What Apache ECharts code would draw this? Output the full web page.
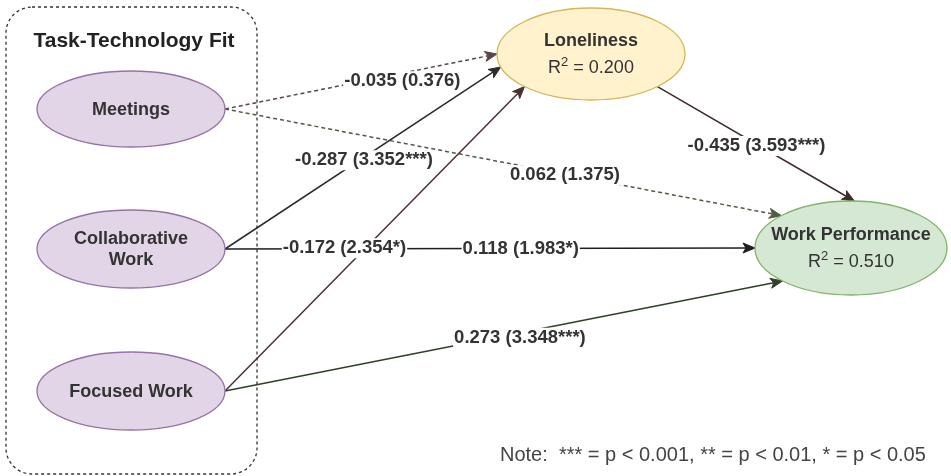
<!DOCTYPE html>
<html>
<head>
<meta charset="utf-8">
<title>Task-Technology Fit path model</title>
<script src="https://cdn.jsdelivr.net/npm/echarts@6/dist/echarts.min.js"></script>
<style>
  html, body { margin: 0; padding: 0; background: #ffffff; }
  #chart { width: 951px; height: 476px; }
</style>
</head>
<body>
<div id="chart"></div>
<script>
// ---- Model content ----------------------------------------------------
const nodeIds   = ['meet', 'collab', 'focus', 'lonely', 'perf'];
const nodeNames = ['Meetings', 'Collaborative\nWork', 'Focused Work', 'Loneliness', 'Work Performance'];
const nodeR2    = [null, null, null, 0.200, 0.510];
const groupTitle = 'Task-Technology Fit';

// Structural paths: source, target, coefficient, t-statistic, significance
const pathFrom = ['meet',   'meet', 'collab', 'collab', 'focus',  'focus', 'lonely'];
const pathTo   = ['lonely', 'perf', 'lonely', 'perf',   'lonely', 'perf',  'perf'];
const pathCoef = [-0.035,   0.062,  -0.287,   0.118,    -0.172,   0.273,   -0.435];
const pathT    = [0.376,    1.375,  3.352,    1.983,    2.354,    3.348,   3.593];
const pathSig  = ['',       '',     '***',    '*',      '*',      '***',   '***'];

const noteText = 'Note:  *** = p < 0.001, ** = p < 0.01, * = p < 0.05';

// ---- Layout and styling -----------------------------------------------
const FONT = '"Liberation Sans", Arial, Helvetica, sans-serif';
const W = 951, H = 476;

const PURPLE = { fill: '#e1d5e7', stroke: '#9673a6' };
const YELLOW = { fill: '#fff2cc', stroke: '#d6b656' };
const GREEN  = { fill: '#d5e8d4', stroke: '#82b366' };

const nodeLayout = {
  meet:   { cx: 131, cy: 109, rx: 94, ry: 38, look: PURPLE },
  collab: { cx: 131, cy: 249, rx: 94, ry: 39, look: PURPLE },
  focus:  { cx: 131, cy: 391, rx: 94, ry: 39, look: PURPLE },
  lonely: { cx: 591, cy: 54,  rx: 94, ry: 46, look: YELLOW },
  perf:   { cx: 851, cy: 248, rx: 96, ry: 47, look: GREEN }
};

// a0/a1: attachment angle on source/target ellipse (deg, y down)
// t: label position along the path, dx/dy: label nudge
const pathLayout = [
  { a0: 0, a1: 180,   t: 0.652, dx: 0,   dy: 8, color: '#5a4646' },
  { a0: 0, a1: 223.5, t: 0.611, dx: 0,   dy: 1, color: '#4f5c45' },
  { a0: 0, a1: 163.6, t: 0.504, dx: 0,   dy: 3, color: '#2b2b2b' },
  { a0: 0, a1: 180,   t: 0.558, dx: 0,   dy: 0, color: '#1f1f1f' },
  { a0: 0, a1: 135,   t: 0.469, dx: -21, dy: 0, color: '#4a3030' },
  { a0: 0, a1: 135.5, t: 0.529, dx: 0,   dy: 5, color: '#2e4128' },
  { a0: 45, a1: 272,  t: 0.503, dx: 0,   dy: 2, color: '#3f2929' }
];

const groupBox = { x: 6, y: 7, w: 251, h: 467, r: 26, titleX: 134, titleY: 41 };

// ---- Helpers ----------------------------------------------------------
function anchor(id, deg) {
  const n = nodeLayout[id];
  const a = deg * Math.PI / 180;
  return [n.cx + n.rx * Math.cos(a), n.cy + n.ry * Math.sin(a)];
}

function pathLabel(i) {
  return pathCoef[i].toFixed(3) + ' (' + pathT[i].toFixed(3) + pathSig[i] + ')';
}

function nodeRich(i) {
  const name = nodeNames[i];
  if (nodeR2[i] === null) {
    return name.split('\n').map(function (s) { return '{b|' + s + '}'; }).join('\n');
  }
  return '{bt|' + name + '}\n{n|R}{s|2}{n| = ' + nodeR2[i].toFixed(3) + '}';
}

const richStyles = {
  b:  { fontFamily: FONT, fontSize: 18, fontWeight: 'bold', lineHeight: 21, fill: '#333333' },
  bt: { fontFamily: FONT, fontSize: 18, fontWeight: 'bold', lineHeight: 27, fill: '#333333' },
  n:  { fontFamily: FONT, fontSize: 18, fontWeight: 'normal', lineHeight: 27, fill: '#333333' },
  s:  { fontFamily: FONT, fontSize: 13, fontWeight: 'normal', lineHeight: 14, padding: [0, 0, 13, 0], fill: '#333333' }
};

// ---- Chart ------------------------------------------------------------
const chart = echarts.init(document.getElementById('chart'), null, { renderer: 'canvas' });

const option = {
  backgroundColor: '#ffffff',
  animation: false,
  title: {
    text: noteText,
    left: 500,
    top: 444,
    padding: 0,
    textStyle: { fontFamily: FONT, fontSize: 20, fontWeight: 'normal', color: '#444444', lineHeight: 22 }
  },
  grid: { left: 0, right: 0, top: 0, bottom: 0 },
  xAxis: { type: 'value', min: 0, max: W, show: false },
  yAxis: { type: 'value', min: 0, max: H, inverse: true, show: false },
  series: [
    {
      name: 'group',
      type: 'custom',
      coordinateSystem: 'cartesian2d',
      silent: true,
      z: 1,
      data: [[0, 0]],
      renderItem: function (params, api) {
        const p = api.coord([groupBox.x, groupBox.y]);
        const s = api.size([groupBox.w, groupBox.h]);
        const t = api.coord([groupBox.titleX, groupBox.titleY]);
        return {
          type: 'group',
          children: [
            {
              type: 'rect',
              shape: { x: p[0], y: p[1], width: s[0], height: s[1], r: groupBox.r },
              style: { fill: 'none', stroke: '#333333', lineWidth: 1.3, lineDash: [3, 3] }
            },
            {
              type: 'text',
              style: {
                text: groupTitle, x: t[0], y: t[1],
                align: 'center', verticalAlign: 'middle',
                textAlign: 'center', textVerticalAlign: 'middle',
                font: 'bold 21px ' + FONT, fill: '#222222'
              }
            }
          ]
        };
      }
    },
    {
      name: 'paths',
      type: 'custom',
      coordinateSystem: 'cartesian2d',
      silent: true,
      z: 2,
      data: pathCoef.map(function (c, i) { return [i, c]; }),
      renderItem: function (params, api) {
        const i = api.value(0);
        const L = pathLayout[i];
        const p0 = api.coord(anchor(pathFrom[i], L.a0));
        const p1 = api.coord(anchor(pathTo[i], L.a1));
        const dx = p1[0] - p0[0], dy = p1[1] - p0[1];
        const len = Math.hypot(dx, dy);
        const ux = dx / len, uy = dy / len, nx = -uy, ny = ux;
        const headLen = 12, headHalf = 5, notch = 9;
        const bx = p1[0] - ux * headLen, by = p1[1] - uy * headLen;
        const mx = p1[0] - ux * notch, my = p1[1] - uy * notch;
        const dashed = pathSig[i] === '';
        return {
          type: 'group',
          children: [
            {
              type: 'line',
              shape: { x1: p0[0], y1: p0[1], x2: mx, y2: my },
              style: { stroke: L.color, lineWidth: 1.5, lineDash: dashed ? [4, 3] : null, fill: null }
            },
            {
              type: 'polygon',
              shape: { points: [[p1[0], p1[1]], [bx + nx * headHalf, by + ny * headHalf], [mx, my], [bx - nx * headHalf, by - ny * headHalf]] },
              style: { fill: L.color, stroke: L.color, lineWidth: 1, lineJoin: 'miter' }
            }
          ]
        };
      }
    },
    {
      name: 'constructs',
      type: 'custom',
      coordinateSystem: 'cartesian2d',
      silent: true,
      z: 3,
      data: nodeIds.map(function (id, i) { return [i, 0]; }),
      renderItem: function (params, api) {
        const i = api.value(0);
        const n = nodeLayout[nodeIds[i]];
        const c = api.coord([n.cx, n.cy]);
        const r = api.size([n.rx, n.ry]);
        return {
          type: 'group',
          children: [
            {
              type: 'ellipse',
              shape: { cx: c[0], cy: c[1], rx: r[0], ry: r[1] },
              style: { fill: n.look.fill, stroke: n.look.stroke, lineWidth: 1.3 }
            },
            {
              type: 'text',
              style: {
                text: nodeRich(i), x: c[0], y: c[1] + 1,
                align: 'center', verticalAlign: 'middle',
                textAlign: 'center', textVerticalAlign: 'middle',
                rich: richStyles, fill: '#333333'
              }
            }
          ]
        };
      }
    },
    {
      name: 'estimates',
      type: 'custom',
      coordinateSystem: 'cartesian2d',
      silent: true,
      z: 4,
      data: pathCoef.map(function (c, i) { return [i, c]; }),
      renderItem: function (params, api) {
        const i = api.value(0);
        const L = pathLayout[i];
        const a = anchor(pathFrom[i], L.a0);
        const b = anchor(pathTo[i], L.a1);
        const p = api.coord([a[0] + (b[0] - a[0]) * L.t + L.dx, a[1] + (b[1] - a[1]) * L.t + L.dy]);
        return {
          type: 'text',
          style: {
            text: pathLabel(i), x: p[0], y: p[1],
            align: 'center', verticalAlign: 'middle',
            textAlign: 'center', textVerticalAlign: 'middle',
            font: 'bold 18.5px ' + FONT, fill: '#333333',
            backgroundColor: '#ffffff', padding: [1, 1, 0, 1]
          }
        };
      }
    }
  ]
};

chart.setOption(option);
</script>
</body>
</html>
